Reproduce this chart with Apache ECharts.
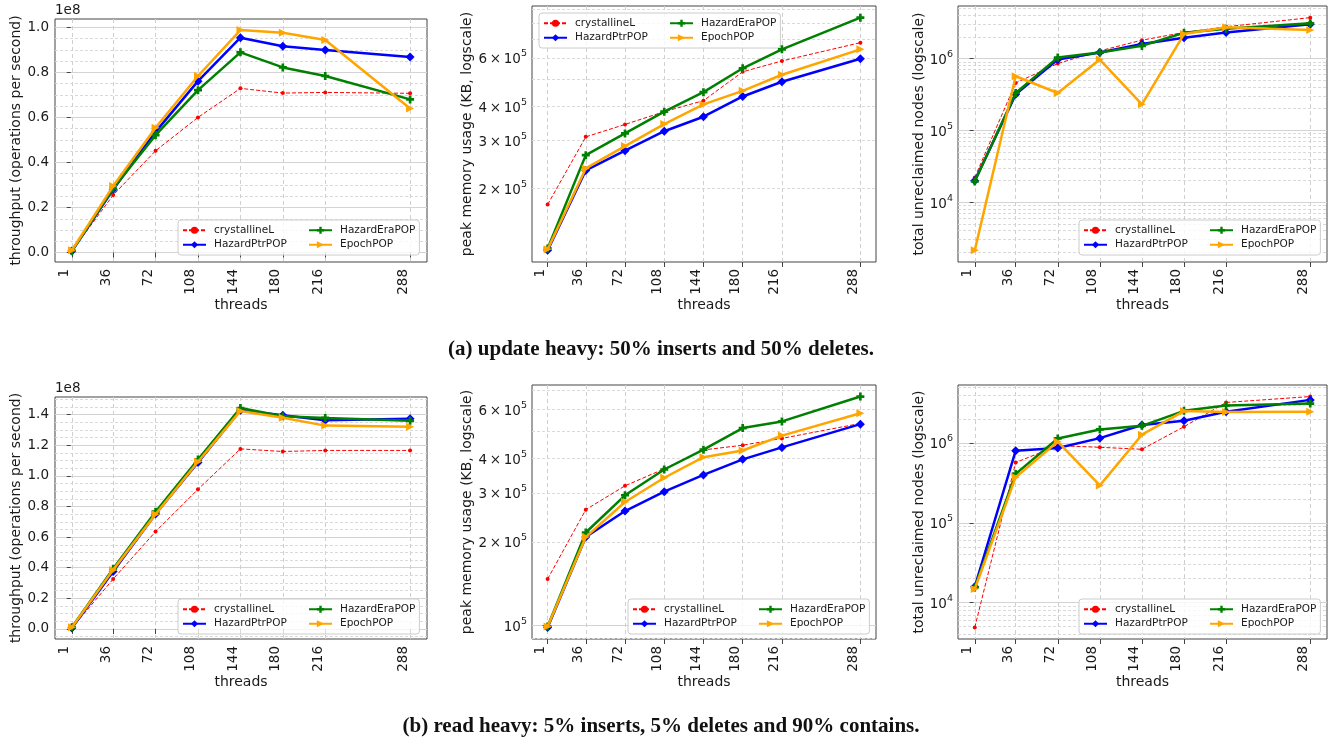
<!DOCTYPE html>
<html><head><meta charset="utf-8">
<script src="https://cdn.jsdelivr.net/npm/echarts@6/dist/echarts.min.js"></script>
<style>html,body{margin:0;padding:0;background:#fff}#c{width:1330px;height:748px}</style>
</head><body><div id="c"></div><script>
// ---------- data ----------
const threads = [1, 36, 72, 108, 144, 180, 216, 288];
const threadTicks = [1, 36, 72, 108, 144, 180, 216, 288];
const seriesNames = ['crystallineL', 'HazardPtrPOP', 'HazardEraPOP', 'EpochPOP'];

// (a) update heavy — throughput (ops/s)
const tputA_crystallineL = [0.7e6, 25.5e6, 45.2e6, 60.0e6, 72.9e6, 70.8e6, 71.1e6, 70.7e6];
const tputA_HazardPtrPOP = [0.7e6, 28.0e6, 53.6e6, 76.1e6, 95.4e6, 91.6e6, 89.9e6, 86.8e6];
const tputA_HazardEraPOP = [0.7e6, 28.4e6, 52.1e6, 72.1e6, 88.9e6, 82.2e6, 78.4e6, 68.0e6];
const tputA_EpochPOP     = [1.0e6, 29.5e6, 55.4e6, 78.4e6, 98.8e6, 97.6e6, 94.4e6, 64.0e6];
// (a) peak memory (KB)
const memA_crystallineL = [1.75e5, 3.09e5, 3.43e5, 3.82e5, 4.19e5, 5.34e5, 5.85e5, 6.82e5];
const memA_HazardPtrPOP = [1.19e5, 2.33e5, 2.75e5, 3.24e5, 3.66e5, 4.34e5, 4.91e5, 5.96e5];
const memA_HazardEraPOP = [1.21e5, 2.65e5, 3.18e5, 3.82e5, 4.50e5, 5.50e5, 6.45e5, 8.42e5];
const memA_EpochPOP     = [1.20e5, 2.37e5, 2.86e5, 3.44e5, 4.06e5, 4.55e5, 5.21e5, 6.45e5];
// (a) unreclaimed nodes
const nodesA_crystallineL = [2.21e4, 4.57e5, 8.51e5, 1.28e6, 1.80e6, 2.31e6, 2.77e6, 3.71e6];
const nodesA_HazardPtrPOP = [1.99e4, 3.17e5, 9.68e5, 1.21e6, 1.59e6, 1.94e6, 2.31e6, 2.99e6];
const nodesA_HazardEraPOP = [1.94e4, 3.31e5, 1.03e6, 1.21e6, 1.50e6, 2.29e6, 2.60e6, 3.09e6];
const nodesA_EpochPOP     = [2.13e3, 5.66e5, 3.31e5, 9.68e5, 2.30e5, 2.19e6, 2.72e6, 2.49e6];

// (b) read heavy — throughput (ops/s)
const tputB_crystallineL = [0.65e6, 32.6e6, 63.6e6, 91.2e6, 117.6e6, 115.9e6, 116.6e6, 116.6e6];
const tputB_HazardPtrPOP = [0.65e6, 37.6e6, 75.1e6, 108.7e6, 142.8e6, 139.6e6, 136.3e6, 137.2e6];
const tputB_HazardEraPOP = [1.1e6, 39.3e6, 76.6e6, 110.7e6, 144.3e6, 138.9e6, 137.8e6, 135.9e6];
const tputB_EpochPOP     = [1.1e6, 38.6e6, 74.9e6, 109.2e6, 142.4e6, 138.0e6, 132.8e6, 132.0e6];
// (b) peak memory (KB)
const memB_crystallineL = [1.47e5, 2.61e5, 3.18e5, 3.66e5, 4.28e5, 4.45e5, 4.71e5, 5.33e5];
const memB_HazardPtrPOP = [0.984e5, 2.08e5, 2.58e5, 3.03e5, 3.48e5, 3.96e5, 4.37e5, 5.30e5];
const memB_HazardEraPOP = [0.992e5, 2.16e5, 2.94e5, 3.64e5, 4.29e5, 5.13e5, 5.42e5, 6.66e5];
const memB_EpochPOP     = [0.992e5, 2.08e5, 2.78e5, 3.40e5, 4.03e5, 4.26e5, 4.82e5, 5.80e5];
// (b) unreclaimed nodes
const nodesB_crystallineL = [4.88e3, 5.69e5, 9.26e5, 8.83e5, 8.34e5, 1.60e6, 3.22e6, 3.82e6];
const nodesB_HazardPtrPOP = [1.58e4, 8.02e5, 8.66e5, 1.15e6, 1.68e6, 1.90e6, 2.46e6, 3.47e6];
const nodesB_HazardEraPOP = [1.55e4, 4.10e5, 1.14e6, 1.48e6, 1.64e6, 2.53e6, 2.95e6, 3.12e6];
const nodesB_EpochPOP     = [1.48e4, 3.73e5, 1.04e6, 2.94e5, 1.27e6, 2.51e6, 2.44e6, 2.46e6];

// tick labels
const tputTicksA = [0, 0.2e8, 0.4e8, 0.6e8, 0.8e8, 1.0e8];
const tputTicksB = [0, 0.2e8, 0.4e8, 0.6e8, 0.8e8, 1.0e8, 1.2e8, 1.4e8];
const memTicksA = [2e5, 3e5, 4e5, 6e5];
const memTicksB = [1e5, 2e5, 3e5, 4e5, 6e5];
const nodeTicks = [1e4, 1e5, 1e6];

const yNames = ['throughput (operations per second)', 'peak memory usage (KB, logscale)', 'total unreclaimed nodes (logscale)'];
const captionA = '(a) update heavy: 50% inserts and 50% deletes.';
const captionB = '(b) read heavy: 5% inserts, 5% deletes and 90% contains.';
const offsetText = '1e8';

// ---------- styling / layout ----------
const FONT = 'DejaVu Sans';
const TXT = '#1a1a1a';
const styles = {
  crystallineL: {color: '#ff0000', width: 1, type: [4, 2], symbol: 'circle', size: 4},
  HazardPtrPOP: {color: '#0000ff', width: 2.5, type: 'solid', symbol: 'diamond', size: 9},
  HazardEraPOP: {color: '#008000', width: 2.5, type: 'solid', symbol: 'path://M1,0H2V1H3V2H2V3H1V2H0V1H1Z', size: 8},
  EpochPOP:     {color: '#ffa500', width: 2.5, type: 'solid', symbol: 'path://M0,0L2,1L0,2Z', size: 8}
};

const panels = [
  {grid: {left: 55, top: 19, width: 372, height: 243}, kind: 'lin', data: [tputA_crystallineL, tputA_HazardPtrPOP, tputA_HazardEraPOP, tputA_EpochPOP], ticks: tputTicksA, yname: yNames[0], nameGap: 29, xGap: 33, legend: [178, 220]},
  {grid: {left: 532, top: 6, width: 344, height: 256}, kind: 'log', data: [memA_crystallineL, memA_HazardPtrPOP, memA_HazardEraPOP, memA_EpochPOP], ticks: memTicksA, yname: yNames[1], nameGap: 54, xGap: 33, legend: [539, 13]},
  {grid: {left: 958, top: 6, width: 369, height: 256}, kind: 'log', data: [nodesA_crystallineL, nodesA_HazardPtrPOP, nodesA_HazardEraPOP, nodesA_EpochPOP], ticks: nodeTicks, yname: yNames[2], nameGap: 32, xGap: 33, legend: [1079, 220]},
  {grid: {left: 55, top: 397, width: 372, height: 242}, kind: 'lin', data: [tputB_crystallineL, tputB_HazardPtrPOP, tputB_HazardEraPOP, tputB_EpochPOP], ticks: tputTicksB, yname: yNames[0], nameGap: 29, xGap: 34, legend: [178, 599]},
  {grid: {left: 532, top: 385, width: 344, height: 254}, kind: 'log', data: [memB_crystallineL, memB_HazardPtrPOP, memB_HazardEraPOP, memB_EpochPOP], ticks: memTicksB, yname: yNames[1], nameGap: 54, xGap: 34, legend: [628, 599]},
  {grid: {left: 958, top: 385, width: 369, height: 254}, kind: 'log', data: [nodesB_crystallineL, nodesB_HazardPtrPOP, nodesB_HazardEraPOP, nodesB_EpochPOP], ticks: nodeTicks, yname: yNames[2], nameGap: 32, xGap: 34, legend: [1079, 599]}
];

// matplotlib-like 5% margins
const xSpan = threads[threads.length - 1] - threads[0];
const xExt = [threads[0] - 0.05 * xSpan, threads[threads.length - 1] + 0.05 * xSpan];
function linExt(arrs) {
  const all = [].concat(...arrs); const mn = Math.min(...all), mx = Math.max(...all), r = mx - mn;
  return [mn - 0.05 * r, mx + 0.05 * r];
}
function logExt(arrs) {
  const all = [].concat(...arrs).map(Math.log10); const mn = Math.min(...all), mx = Math.max(...all), r = mx - mn;
  return [Math.pow(10, mn - 0.05 * r), Math.pow(10, mx + 0.05 * r)];
}
function linMinor(ext, step, every) {
  const out = []; for (let k = Math.ceil(ext[0] / step); k <= Math.floor(ext[1] / step); k++) { if (k % every !== 0) out.push(k * step); } return out;
}
function logMajor(ext) {
  const out = []; for (let e = Math.floor(Math.log10(ext[0])); e <= Math.ceil(Math.log10(ext[1])); e++) { const v = Math.pow(10, e); if (v >= ext[0] && v <= ext[1]) out.push(v); } return out;
}
function logMinor(ext) {
  const out = []; for (let e = Math.floor(Math.log10(ext[0])); e <= Math.ceil(Math.log10(ext[1])); e++) { for (let m = 2; m <= 9; m++) { const v = m * Math.pow(10, e); if (v >= ext[0] && v <= ext[1]) out.push(v); } } return out;
}
function supLabel(v) {
  const e = Math.floor(Math.log10(v) + 1e-9); const m = Math.round(v / Math.pow(10, e));
  return (m === 1 ? '{b|10}' : '{b|' + m + '\u2009\u00d7\u200910}') + '{s|' + e + '}';
}

const option = {animation: false, backgroundColor: '#ffffff', grid: [], xAxis: [], yAxis: [], series: [], legend: [], title: []};

const majorSplit = {show: true, lineStyle: {color: '#d3d3d3', width: 1, type: 'solid'}};
const minorSplit = {show: true, lineStyle: {color: '#dadada', width: 1, type: [3, 2]}};
const labelBase = {fontFamily: FONT, fontSize: 13.5, color: TXT};

panels.forEach((p, i) => {
  option.grid.push(Object.assign({show: true, borderColor: '#444', borderWidth: 1, backgroundColor: 'transparent', containLabel: false, outerBoundsMode: 'none'}, p.grid));
  option.xAxis.push({
    type: 'value', gridIndex: i, min: xExt[0], max: xExt[1],
    name: 'threads', nameLocation: 'middle', nameGap: p.xGap,
    nameTextStyle: {fontFamily: FONT, fontSize: 14, color: TXT},
    axisLine: {show: false},
    axisTick: {show: true, customValues: threadTicks, length: 5, lineStyle: {color: '#444'}},
    axisLabel: Object.assign({customValues: threadTicks, rotate: 90, margin: 7, verticalAlign: 'bottom'}, labelBase),
    splitLine: {show: true, lineStyle: {color: '#cfcfcf', width: 1, type: [4, 3]}}
  });
  let ext, majors, minors, labelOpt;
  if (p.kind === 'lin') {
    ext = linExt(p.data);
    majors = p.ticks;
    minors = linMinor(ext, 0.05e8, 4);
    labelOpt = Object.assign({customValues: p.ticks, margin: 6, formatter: v => (v / 1e8).toFixed(1)}, labelBase);
  } else {
    ext = logExt(p.data);
    majors = logMajor(ext);
    minors = logMinor(ext);
    labelOpt = {customValues: p.ticks, margin: 5, formatter: supLabel,
      rich: {b: {fontFamily: FONT, fontSize: 13.5, color: TXT, lineHeight: 18, verticalAlign: 'bottom'},
             s: {fontFamily: FONT, fontSize: 9.5, color: TXT, lineHeight: 10, verticalAlign: 'top'}}};
  }
  const ytype = p.kind === 'lin' ? 'value' : 'log';
  const base = {type: ytype, gridIndex: i, min: ext[0], max: ext[1], position: 'left'};
  if (ytype === 'log') base.logBase = 10;
  option.yAxis.push(Object.assign({}, base, {
    name: p.yname, nameLocation: 'middle', nameGap: p.nameGap, nameRotate: 90,
    nameTextStyle: {fontFamily: FONT, fontSize: 14, color: TXT},
    axisLine: {show: false},
    axisTick: {show: true, customValues: majors, length: 4, lineStyle: {color: '#444'}},
    axisLabel: labelOpt,
    splitLine: majorSplit
  }));
  option.yAxis.push(Object.assign({}, base, {
    axisLine: {show: false},
    axisTick: {show: false, customValues: minors},
    axisLabel: {show: false},
    splitLine: minorSplit
  }));
  seriesNames.forEach((n, k) => {
    const s = styles[n];
    option.series.push({
      type: 'line', name: n, xAxisIndex: i, yAxisIndex: 2 * i,
      data: threads.map((t, j) => [t, p.data[k][j]]),
      symbol: s.symbol, symbolSize: s.size, showSymbol: true, showAllSymbol: true,
      itemStyle: {color: s.color},
      lineStyle: {color: s.color, width: s.width, type: s.type},
      emphasis: {disabled: true}, silent: true, z: 2 + k
    });
  });
  option.legend.push({
    left: p.legend[0], top: p.legend[1], orient: 'horizontal', width: 240,
    itemGap: 2, itemWidth: 23, itemHeight: 9, padding: 4, selectedMode: false,
    backgroundColor: 'rgba(255,255,255,0.8)', borderColor: '#cccccc', borderWidth: 1, borderRadius: 3,
    textStyle: {fontFamily: FONT, fontSize: 10.5, color: TXT, lineHeight: 12.5, padding: [0, 0, 0, 3]},
    data: [{name: 'crystallineL', textStyle: {width: 92}}, {name: 'HazardEraPOP'}, {name: 'HazardPtrPOP', textStyle: {width: 92}}, {name: 'EpochPOP'}]
  });
});

option.title = [
  {text: offsetText, left: 55, top: 3, padding: 0, textStyle: {fontFamily: FONT, fontSize: 13.5, fontWeight: 'normal', color: TXT}},
  {text: offsetText, left: 55, top: 381, padding: 0, textStyle: {fontFamily: FONT, fontSize: 13.5, fontWeight: 'normal', color: TXT}},
  {text: captionA, left: 661, top: 339, textAlign: 'center', padding: 0, textStyle: {fontFamily: 'Liberation Serif', fontSize: 21, fontWeight: 'bold', color: '#111'}},
  {text: captionB, left: 661, top: 716, textAlign: 'center', padding: 0, textStyle: {fontFamily: 'Liberation Serif', fontSize: 21, fontWeight: 'bold', color: '#111'}}
];

const chart = echarts.init(document.getElementById('c'), null, {renderer: 'canvas', width: 1330, height: 748});
chart.setOption(option);
</script></body></html>
